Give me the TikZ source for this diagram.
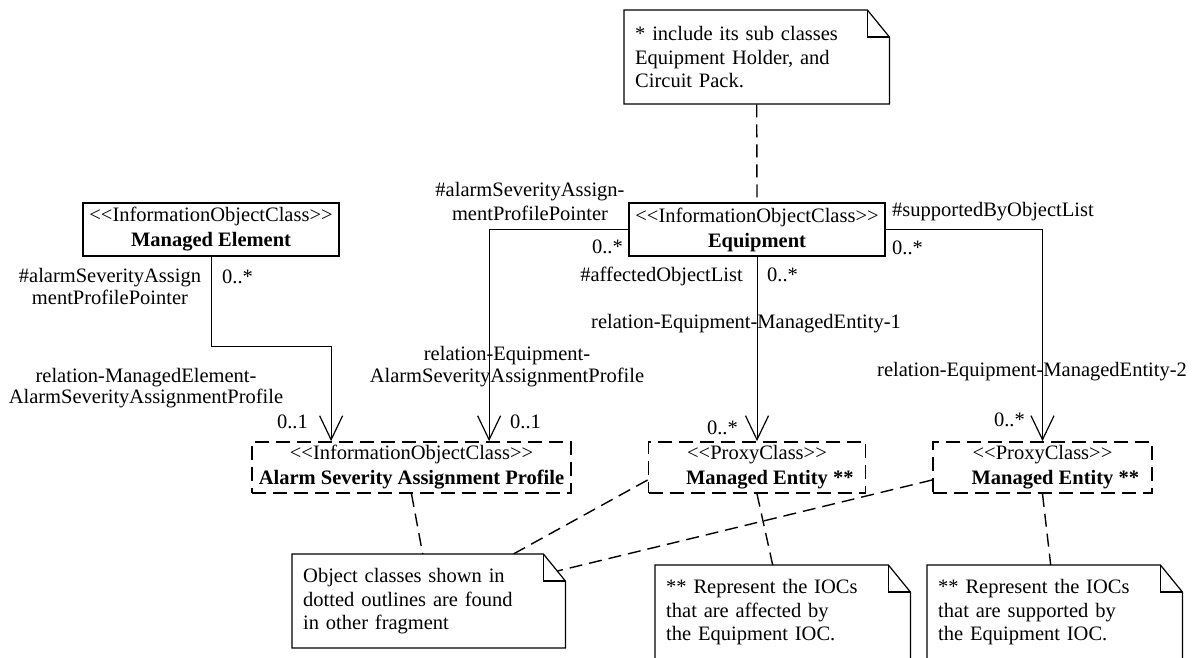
\documentclass[tikz,border=0pt]{standalone}
\usepackage{fontspec}
\setmainfont{Liberation Serif}
\usetikzlibrary{arrows.meta}
% stereotype brackets, kept as two plain less-than / greater-than signs
\newcommand{\stereo}[1]{<\kern0pt<#1>\kern0pt>}
% outline of a UML note with a folded top-right corner
\newcommand{\notefold}[2]{%
  \draw[noteline] (#1.north west) -- ([xshift=-22pt]#1.north east)
    -- ([yshift=-27pt]#1.north east) -- ([yshift=-#2]#1.north east)
    -- ([yshift=-#2]#1.north west) -- cycle;
  \draw[noteline] ([xshift=-22pt]#1.north east) |- ([yshift=-27pt]#1.north east);
}
\begin{document}
\begin{tikzpicture}[x=1pt,y=-1pt,
  every node/.style={font=\fontsize{20.5}{24}\selectfont},
  classbox/.style={draw, line width=1.8pt, minimum width=256pt, minimum height=53pt,
    inner sep=0pt, align=center, font=\fontsize{20.5}{25}\selectfont},
  proxybox/.style={classbox, minimum height=51pt, dash pattern=on 14pt off 7pt},
  assoc/.style={line width=1pt, -{Straight Barb[length=24pt,width=23pt,line width=1.2pt]}},
  anchorline/.style={line width=1.4pt, dash pattern=on 13pt off 7pt},
  noteline/.style={line width=1.2pt},
  lbl/.style={inner sep=0pt, align=center},
  notebox/.style={inner xsep=11pt, inner ysep=14pt, minimum height=94pt, align=left,
    anchor=north west, font=\fontsize{20.5}{23.5}\selectfont}
]
\useasboundingbox (0,0) rectangle (1200,657);
\fill[white] (0,0) rectangle (1200,657);
\clip (0,0) rectangle (1200,657);

% classes
\node[classbox] (me) at (211,229.5) {\stereo{InformationObjectClass}\\\textbf{Managed Element}};
\node[classbox] (eq) at (757,229.5) {\stereo{InformationObjectClass}\\\textbf{Equipment}};
\node[proxybox, minimum width=319pt] (asap) at (411.5,467.5)
  {\stereo{InformationObjectClass}\\\textbf{Alarm Severity Assignment Profile}};
\node[proxybox, minimum width=217pt] (pe1) at (757,467.5)
  {\stereo{ProxyClass}\\\textbf{Managed Entity\rlap{ **}}};
\node[proxybox, minimum width=219pt] (pe2) at (1042.5,467.5)
  {\stereo{ProxyClass}\\\textbf{Managed Entity\rlap{ **}}};

% notes
\node[notebox, text width=243pt] (nt) at (624,10)
  {* include its sub classes\\Equipment Holder, and\\Circuit Pack.};
\node[notebox, text width=251pt] (n1) at (292,554)
  {Object classes shown in\\dotted outlines are found\\in other fragment};
\node[notebox, text width=233pt] (n2) at (655,565)
  {** Represent the IOCs\\that are affected by\\the Equipment IOC.};
\node[notebox, text width=233pt] (n3) at (927,565)
  {** Represent the IOCs\\that are supported by\\the Equipment IOC.};
\notefold{nt}{94pt}
\notefold{n1}{94pt}
\notefold{n2}{120pt}
\notefold{n3}{120pt}

% associations
\draw[assoc] (me.south) -- ++(0,90) -| ([xshift=80pt]asap.north west);
\draw[assoc] (eq.west) -| ([xshift=238pt]asap.north west);
\draw[assoc] (eq.south) -- (pe1.north);
\draw[assoc] (eq.east) -| (pe2.north);

% note anchors
\draw[anchorline] (nt.south) -- (eq.north);
\draw[anchorline] (asap.south) -- ([xshift=-6pt]n1.north);
\draw[anchorline] ([yshift=-12.5pt]pe1.west) -- ([xshift=-52pt]n1.north east);
\draw[anchorline] ([yshift=-12.5pt]pe2.west) -- ([xshift=-8pt,yshift=-17pt]n1.north east);
\draw[anchorline] (pe1.south) -- ([xshift=-10pt]n2.north);
\draw[anchorline] (pe2.south) -- ([xshift=-4pt]n3.north);

% role names, multiplicities and association names
\node[lbl, anchor=north, font=\fontsize{20.5}{22}\selectfont] (r1) at (110,268.5)
  {\#alarmSeverityAssign\\mentProfilePointer};
\node[lbl, anchor=base west] (m1) at (222,283) {0..*};
\node[lbl, anchor=north, font=\fontsize{20.5}{21}\selectfont] (a1) at (146,368.5)
  {relation-ManagedElement-\\AlarmSeverityAssignmentProfile};
\node[lbl, anchor=base east] (m2) at (308,428) {0..1};

\node[lbl, anchor=north, font=\fontsize{20.5}{24}\selectfont] (r2) at (530,182)
  {\#alarmSeverityAssign-\\mentProfilePointer};
\node[lbl, anchor=base east] (m3) at (623,253) {0..*};
\node[lbl, anchor=north, font=\fontsize{20.5}{22}\selectfont] (a2) at (507,346.5)
  {relation-Equipment-\\AlarmSeverityAssignmentProfile};
\node[lbl, anchor=base west] (m4) at (510,428) {0..1};

\node[lbl, anchor=base east] (r3) at (743,281) {\#affectedObjectList};
\node[lbl, anchor=base west] (m5) at (767,281) {0..*};
\node[lbl, anchor=base west] (a3) at (591,328) {relation-Equipment-ManagedEntity-1};
\node[lbl, anchor=base east] (m6) at (738,434) {0..*};

\node[lbl, anchor=base west] (r4) at (892,216) {\#supportedByObjectList};
\node[lbl, anchor=base west] (m7) at (892,254) {0..*};
\node[lbl, anchor=base west] (a4) at (877,376) {relation-Equipment-ManagedEntity-2};
\node[lbl, anchor=base east] (m8) at (1025,426) {0..*};
\end{tikzpicture}
\end{document}
